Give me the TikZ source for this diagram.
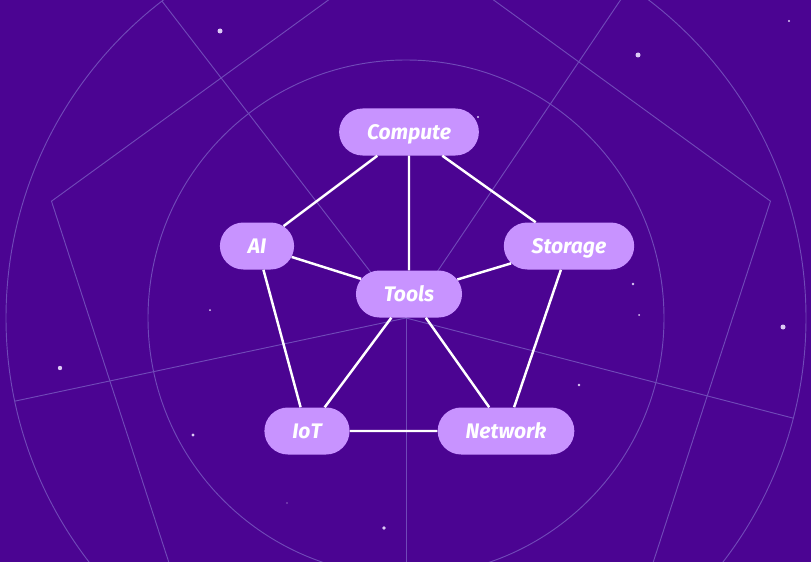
\documentclass[tikz,border=0pt]{standalone}
\usepackage{fontspec}
\setmainfont{Fira Sans}
\usetikzlibrary{shapes.misc}

\definecolor{bgpurple}{HTML}{4B0492}
\definecolor{gridline}{HTML}{7049B8}
\definecolor{pillfill}{HTML}{C893FF}
\definecolor{stardot}{HTML}{DCCBF5}

\tikzset{
  pill/.style={rounded rectangle, fill=pillfill, text=white,
    inner xsep=0.8cm, minimum height=1.41cm,
    text height=0.45cm, text depth=0pt,
    font=\fontsize{18}{21}\selectfont\bfseries\itshape},
  link/.style={white, line width=2.1pt},
  gridpath/.style={gridline, line width=0.8pt},
}

\begin{document}
\begin{tikzpicture}[x=0.03cm, y=-0.03cm]
        \useasboundingbox (0,0) rectangle (811,562);
        \fill[bgpurple] (0,0) rectangle (811,562);

        % radar web in the back
        \begin{scope}
            \clip (0,0) rectangle (811,562);
            \draw[gridpath] (406,318) circle (258);
            \draw[gridpath] (406,318) circle (400);
            \foreach \a in {90,168,232.4,304,14.5}
                \draw[gridpath] (406,318) -- ++(\a:400);
            \draw[gridpath, shift={(411,318)}] (270:378) -- (342:378) -- (54:378)
                -- (126:378) -- (198:378) -- cycle;
        \end{scope}

        % stars
        \foreach \x/\y/\r in {220/31/2.5, 638/55/2.5, 789/21/1.2, 478/117/1.2,
            633/284/1.3, 639/315/1, 783/327/2.5, 579/385/1.3, 210/310/1,
            60/368/2.2, 193/435/1.6, 287/503/0.6, 384/528/1.8}
            \fill[stardot] (\x,\y) circle (\r);

        % nodes
        \node[pill] (compute) at (409,132) {Compute};
        \node[pill] (ai) at (257,246) {AI};
        \node[pill] (storage) at (569,246) {Storage};
        \node[pill] (tools) at (409,294) {Tools};
        \node[pill] (iot) at (307,431) {IoT};
        \node[pill] (network) at (506,431) {Network};

        % links
        \draw[link] (compute) -- (ai);
        \draw[link] (compute) -- (tools);
        \draw[link] (compute) -- (storage);
        \draw[link] (ai) -- (tools);
        \draw[link] (storage) -- (tools);
        \draw[link] (ai) -- (iot);
        \draw[link] (storage) -- (network);
        \draw[link] (tools) -- (iot);
        \draw[link] (tools) -- (network);
        \draw[link] (iot) -- (network);
    \end{tikzpicture}
\end{document}
